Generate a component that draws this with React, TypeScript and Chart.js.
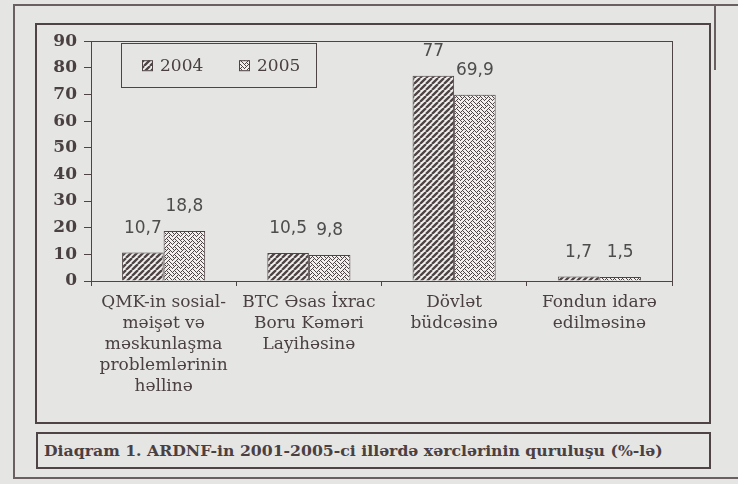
import React, { useEffect, useRef } from 'react';
import { Chart, registerables } from 'chart.js';

Chart.register(...registerables);

// ---- data ----
const categories: string[][] = [
  ['QMK-in sosial-', 'məişət və', 'məskunlaşma', 'problemlərinin', 'həllinə'],
  ['BTC Əsas İxrac', 'Boru Kəməri', 'Layihəsinə'],
  ['Dövlət', 'büdcəsinə'],
  ['Fondun idarə', 'edilməsinə'],
];
const seriesNames = ['2004', '2005'];
const values2004 = [10.7, 10.5, 77, 1.7];
const values2005 = [18.8, 9.8, 69.9, 1.5];
const yMin = 0;
const yMax = 90;
const yStep = 10;
const caption = 'Diaqram 1. ARDNF-in 2001-2005-ci illərdə xərclərinin quruluşu (%-lə)';

// ---- styles ----
const BG = '#e5e5e3';
const DARK = '#4e4345';
const TEXT = '#4a4042';
const LIGHT = '#f0f0ee';
const LABEL = '#4d4d4d';

function makeStripe(): CanvasPattern {
  const s = 6;
  const c = document.createElement('canvas');
  c.width = s;
  c.height = s;
  const g = c.getContext('2d')!;
  g.fillStyle = LIGHT;
  g.fillRect(0, 0, s, s);
  g.strokeStyle = DARK;
  g.lineWidth = 2.3;
  g.beginPath();
  for (let k = -1; k <= 1; k++) {
    g.moveTo(k * s, s);
    g.lineTo(k * s + s, 0);
  }
  g.stroke();
  return g.createPattern(c, 'repeat')!;
}

const WEAVE_BITS = [0x88, 0x54, 0x22, 0x45, 0x88, 0x14, 0x22, 0x51];
function makeWeave(): CanvasPattern {
  const s = 8;
  const c = document.createElement('canvas');
  c.width = s;
  c.height = s;
  const g = c.getContext('2d')!;
  g.fillStyle = LIGHT;
  g.fillRect(0, 0, s, s);
  g.fillStyle = DARK;
  WEAVE_BITS.forEach((row, y) => {
    for (let x = 0; x < 8; x++) {
      if (row & (0x80 >> x)) g.fillRect(x, y, 1, 1);
    }
  });
  return g.createPattern(c, 'repeat')!;
}

const decoPlugin = {
  id: 'deco',
  afterDraw(chart: any) {
    const { ctx, chartArea: a } = chart;
    ctx.save();
    // plot frame
    ctx.strokeStyle = DARK;
    ctx.lineWidth = 1;
    ctx.strokeRect(Math.round(a.left) + 0.5, Math.round(a.top) + 0.5, Math.round(a.right - a.left), Math.round(a.bottom - a.top));

    // data labels
    ctx.font = '17px "DejaVu Sans"';
    ctx.fillStyle = LABEL;
    ctx.textAlign = 'center';
    ctx.textBaseline = 'middle';
    chart.data.datasets.forEach((ds: any, i: number) => {
      chart.getDatasetMeta(i).data.forEach((el: any, j: number) => {
        const v = ds.data[j];
        ctx.fillText(String(v).replace('.', ','), el.x, el.y - 24);
      });
    });

    // legend
    const lx = a.left + 30;
    const ly = a.top + 2;
    const lw = 195;
    const lh = 44;
    ctx.fillStyle = BG;
    ctx.fillRect(lx, ly, lw, lh);
    ctx.strokeStyle = DARK;
    ctx.lineWidth = 1;
    ctx.strokeRect(Math.round(lx) + 0.5, Math.round(ly) + 0.5, lw, lh);
    const cy = ly + 22;
    const offsets = [21, 118];
    chart.data.datasets.forEach((ds: any, i: number) => {
      const sx = lx + offsets[i];
      ctx.fillStyle = ds.backgroundColor;
      ctx.fillRect(sx, cy - 5, 10, 10);
      ctx.strokeStyle = DARK;
      ctx.strokeRect(sx + 0.5, cy - 5 + 0.5, 10, 10);
      ctx.fillStyle = TEXT;
      ctx.font = '17px "DejaVu Serif"';
      ctx.textAlign = 'left';
      ctx.textBaseline = 'middle';
      ctx.fillText(ds.label, sx + 18, cy + 1);
    });
    ctx.restore();
  },
};

export default function App() {
  const ref = useRef<HTMLCanvasElement | null>(null);

  useEffect(() => {
    if (!ref.current) return;
    const chart = new Chart(ref.current, {
      type: 'bar',
      data: {
        labels: categories as any,
        datasets: [
          {
            label: seriesNames[0],
            data: values2004,
            backgroundColor: makeStripe() as any,
            borderColor: DARK,
            borderWidth: 1,
            categoryPercentage: 0.572,
            barPercentage: 1,
          },
          {
            label: seriesNames[1],
            data: values2005,
            backgroundColor: makeWeave() as any,
            borderColor: DARK,
            borderWidth: 1,
            categoryPercentage: 0.572,
            barPercentage: 1,
          },
        ],
      },
      options: {
        animation: false,
        responsive: true,
        maintainAspectRatio: false,
        layout: { padding: { left: 0, top: 17, right: 37, bottom: 0 } },
        plugins: {
          legend: { display: false },
          tooltip: { enabled: false },
        },
        scales: {
          x: {
            grid: {
              offset: true,
              drawOnChartArea: false,
              drawTicks: true,
              tickLength: 5,
              color: DARK,
            },
            border: { display: true, color: DARK, width: 1 },
            ticks: {
              color: TEXT,
              font: { family: 'DejaVu Serif', size: 17, lineHeight: '21px' as any },
              padding: 6,
              maxRotation: 0,
              minRotation: 0,
              autoSkip: false,
            },
            afterFit: (scale: any) => {
              scale.height = 141;
            },
          },
          y: {
            min: yMin,
            max: yMax,
            grid: {
              drawOnChartArea: false,
              drawTicks: true,
              tickLength: 7,
              color: DARK,
            },
            border: { display: true, color: DARK, width: 1 },
            ticks: {
              stepSize: yStep,
              color: TEXT,
              font: { family: 'DejaVu Serif', size: 17, weight: 'bold' },
              padding: 7,
            },
            afterFit: (scale: any) => {
              scale.width = 55;
            },
          },
        },
      },
      plugins: [decoPlugin],
    });
    return () => chart.destroy();
  }, []);

  const line = (l: number, t: number, w: number, h: number): React.CSSProperties => ({
    position: 'absolute',
    left: l,
    top: t,
    width: w,
    height: h,
    background: '#6a5f61',
  });

  return (
    <div
      style={{
        position: 'absolute',
        left: 0,
        top: 0,
        width: 738,
        height: 484,
        background: BG,
        overflow: 'hidden',
      }}
    >
      <div style={line(13, 4, 725, 2)} />
      <div style={line(13, 4, 2, 475)} />
      <div style={line(13, 477, 725, 2)} />
      <div style={line(714, 4, 2, 66)} />
      <div
        style={{
          position: 'absolute',
          left: 35,
          top: 23,
          width: 676,
          height: 401,
          border: `2px solid ${DARK}`,
          boxSizing: 'border-box',
        }}
      />
      <div style={{ position: 'absolute', left: 36, top: 24, width: 673, height: 398 }}>
        <canvas ref={ref} />
      </div>
      <div
        style={{
          position: 'absolute',
          left: 36,
          top: 432,
          width: 675,
          height: 37,
          border: `2px solid ${DARK}`,
          boxSizing: 'border-box',
          display: 'flex',
          alignItems: 'center',
          paddingLeft: 6,
          fontFamily: '"DejaVu Serif", serif',
          fontWeight: 'bold',
          fontSize: 15.7,
          color: TEXT,
          whiteSpace: 'nowrap',
        }}
      >
        {caption}
      </div>
    </div>
  );
}
